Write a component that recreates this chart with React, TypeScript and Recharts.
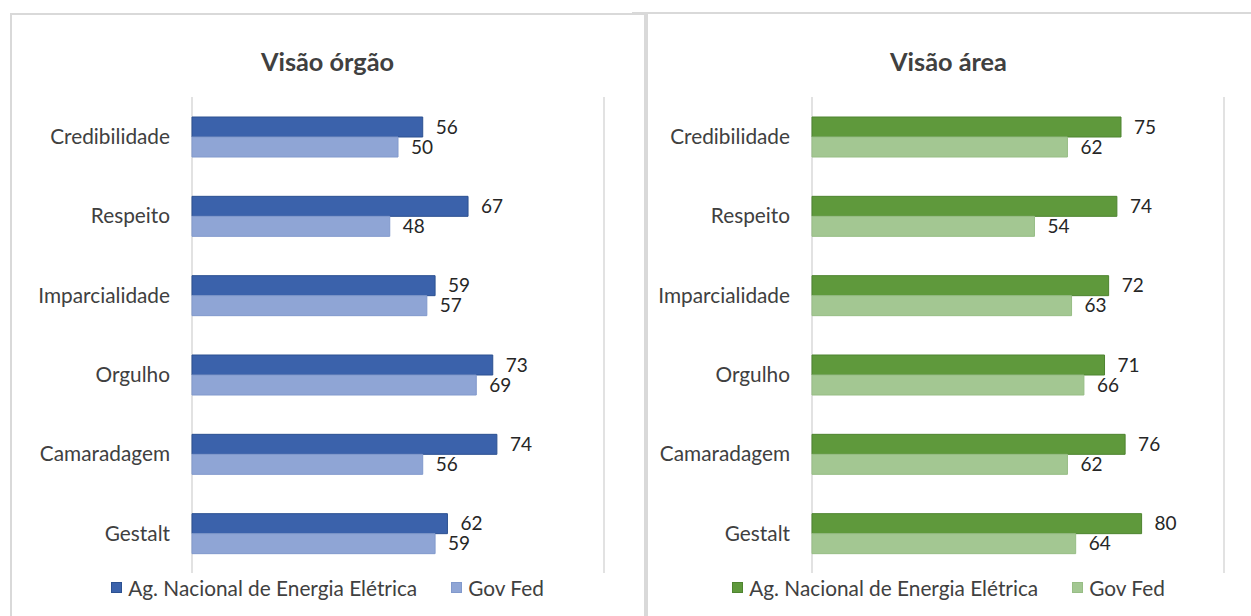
import React from 'react';
import { BarChart, Bar, XAxis, YAxis, CartesianGrid, LabelList, Legend } from 'recharts';

const categories = ['Credibilidade', 'Respeito', 'Imparcialidade', 'Orgulho', 'Camaradagem', 'Gestalt'];
const orgaoAgencia = [56, 67, 59, 73, 74, 62];
const orgaoGovFed = [50, 48, 57, 69, 56, 59];
const areaAgencia = [75, 74, 72, 71, 76, 80];
const areaGovFed = [62, 54, 63, 66, 62, 64];
const xTicks = [0, 50, 100];
const seriesNames = ['Ag. Nacional de Energia Elétrica', 'Gov Fed'];
const titles = ['Visão órgão', 'Visão área'];

const FONT = 'Lato, "Open Sans", sans-serif';
const TEXT = '#404040';
const GRID = '#d9d9d9';

const build = (a: number[], b: number[]) =>
  categories.map((name, i) => ({ name, ag: a[i], gov: b[i] }));

const orgaoData = build(orgaoAgencia, orgaoGovFed);
const areaData = build(areaAgencia, areaGovFed);

type PanelProps = {
  title: string;
  data: { name: string; ag: number; gov: number }[];
  left: number;
  width: number;
  yAxisWidth: number;
  rightMargin: number;
  colors: { agFill: string; agStroke: string; govFill: string; govStroke: string };
};

const LegendContent = (props: any) => {
  const payload = props.payload || [];
  return (
    <div
      style={{
        display: 'flex',
        justifyContent: 'center',
        alignItems: 'center',
        fontFamily: FONT,
        fontSize: 20.8,
        color: TEXT,
        height: 24,
      }}
    >
      {payload.map((p: any, i: number) => (
        <div
          key={i}
          style={{ display: 'flex', alignItems: 'center', marginLeft: i === 0 ? 0 : 34 }}
        >
          <div
            style={{
              width: 9,
              height: 9,
              background: p.color,
              border: `1px solid ${p.payload?.stroke || p.color}`,
              marginRight: 6,
            }}
          />
          <span style={{ whiteSpace: 'nowrap' }}>{p.value}</span>
        </div>
      ))}
    </div>
  );
};

const Panel = ({ title, data, left, width, yAxisWidth, rightMargin, colors }: PanelProps) => (
  <div style={{ position: 'absolute', left, top: 0, width, height: 616 }}>
    <div
      style={{
        position: 'absolute',
        left: 0,
        top: 45,
        width,
        textAlign: 'center',
        fontFamily: FONT,
        fontWeight: 700,
        fontSize: 25.3,
        lineHeight: '32px',
        color: TEXT,
      }}
    >
      {title}
    </div>
    <BarChart
      width={width}
      height={616}
      data={data}
      layout="vertical"
      margin={{ top: 97, right: rightMargin, bottom: 43, left: 0 }}
      barGap={0}
      barSize={20}
    >
      <CartesianGrid horizontal={false} stroke={GRID} strokeWidth={1.5} />
      <XAxis
        type="number"
        domain={[0, 100]}
        ticks={xTicks}
        height={0}
        tick={false}
        axisLine={false}
        tickLine={false}
      />
      <YAxis
        type="category"
        dataKey="name"
        width={yAxisWidth}
        axisLine={false}
        tickLine={false}
        tickSize={0}
        tickMargin={22}
        tick={{ fill: TEXT, fontSize: 20.8, fontFamily: FONT }}
      />
      <Legend
        layout="horizontal"
        verticalAlign="middle"
        align="center"
        content={<LegendContent />}
        wrapperStyle={{ top: 575, left: 0, width }}
      />
      <Bar
        dataKey="ag"
        name={seriesNames[0]}
        fill={colors.agFill}
        stroke={colors.agStroke}
        strokeWidth={1}
        isAnimationActive={false}
      >
        <LabelList
          dataKey="ag"
          position="right"
          offset={13}
          fill="#262626"
          fontSize={19}
          fontFamily={FONT}
        />
      </Bar>
      <Bar
        dataKey="gov"
        name={seriesNames[1]}
        fill={colors.govFill}
        stroke={colors.govStroke}
        strokeWidth={1}
        isAnimationActive={false}
      >
        <LabelList
          dataKey="gov"
          position="right"
          offset={13}
          fill="#262626"
          fontSize={19}
          fontFamily={FONT}
        />
      </Bar>
    </BarChart>
  </div>
);

export default function App() {
  return (
    <div
      style={{
        position: 'fixed',
        left: 0,
        top: 0,
        width: 1251,
        height: 616,
        background: '#ffffff',
        overflow: 'hidden',
      }}
    >
      <div
        style={{
          position: 'absolute',
          left: 10,
          top: 13,
          width: 636,
          height: 620,
          border: `2px solid ${GRID}`,
          boxSizing: 'border-box',
        }}
      />
      <div
        style={{
          position: 'absolute',
          left: 632,
          top: 12,
          width: 640,
          height: 2,
          background: GRID,
        }}
      />
      <div
        style={{
          position: 'absolute',
          left: 646,
          top: 12,
          width: 620,
          height: 620,
          border: `2px solid ${GRID}`,
          boxSizing: 'border-box',
        }}
      />
      <Panel
        title={titles[0]}
        data={orgaoData}
        left={10}
        width={635}
        yAxisWidth={182}
        rightMargin={41}
        colors={{ agFill: '#3B62AB', agStroke: '#2C5191', govFill: '#8FA5D5', govStroke: '#8199CC' }}
      />
      <Panel
        title={titles[1]}
        data={areaData}
        left={646}
        width={605}
        yAxisWidth={166}
        rightMargin={27}
        colors={{ agFill: '#5F993C', agStroke: '#4E8430', govFill: '#A3C792', govStroke: '#97BD85' }}
      />
    </div>
  );
}
